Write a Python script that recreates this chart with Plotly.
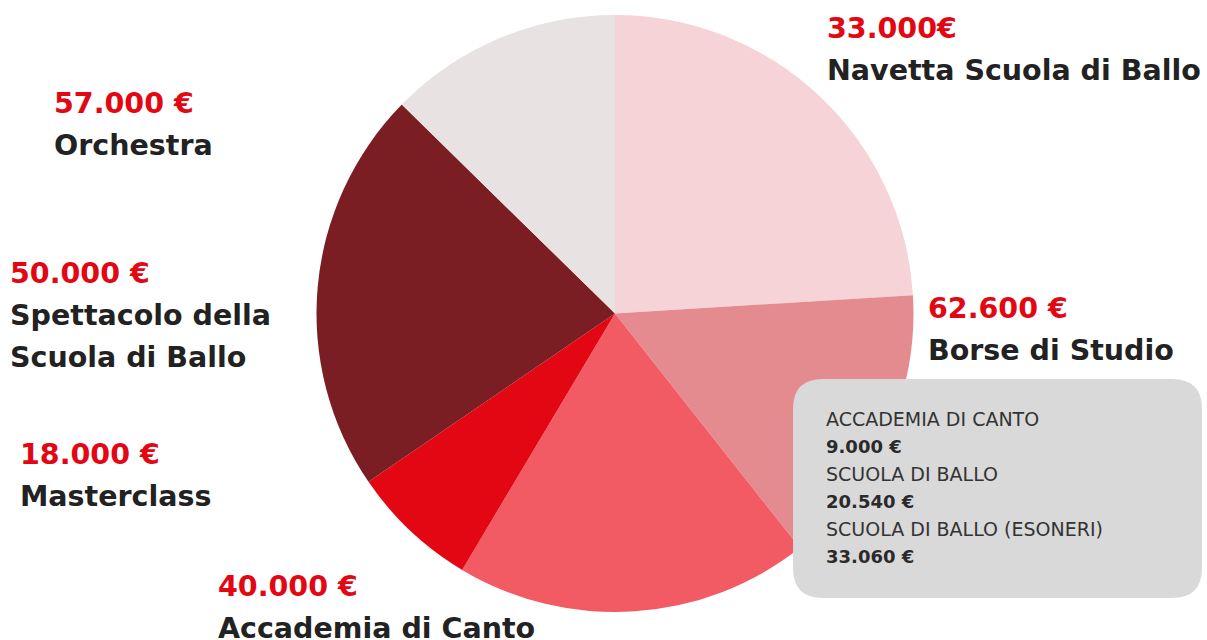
import plotly.graph_objects as go

# ---- data ----
categories = ["Borse di Studio", "Accademia di Canto", "Spettacolo della Scuola di Ballo",
              "Masterclass", "Orchestra", "Navetta Scuola di Ballo"]
values = [62600, 40000, 50000, 18000, 57000, 33000]
value_labels = ["62.600 €", "40.000 €", "50.000 €", "18.000 €", "57.000 €", "33.000€"]
name_lines = [["Borse di Studio"], ["Accademia di Canto"], ["Spettacolo della", "Scuola di Ballo"],
              ["Masterclass"], ["Orchestra"], ["Navetta Scuola di Ballo"]]
colors = ["#F5D3D6", "#E48B90", "#F25A64", "#E30613", "#7B1E24", "#E9E2E3"]

detail_names = ["ACCADEMIA DI CANTO", "SCUOLA DI BALLO", "SCUOLA DI BALLO (ESONERI)"]
detail_values = ["9.000 €", "20.540 €", "33.060 €"]

W, H = 1207, 640
FONT = "DejaVu Sans"
RED = "#E30613"
DARK = "#222222"

# label anchor (left x, first baseline) in window pixels
label_pos = [(928, 317), (218, 595), (10, 282), (20, 463), (54, 112), (827, 37)]

def px(x):
    return x / W

def py(y):
    return 1 - y / H

cx, cy, r = 615, 313.5, 298.5

fig = go.Figure(go.Pie(
    labels=categories, values=values, sort=False, direction="clockwise", rotation=0,
    marker=dict(colors=colors, line=dict(width=0)), textinfo="none", hoverinfo="skip",
    showlegend=False,
    domain=dict(x=[px(cx - r), px(cx + r)], y=[py(cy + r), py(cy - r)]),
))

annotations = []
SIZE = 28.5
LINE = 42
def add_text(x, baseline, text, size, color, weight):
    annotations.append(dict(
        x=px(x), y=py(baseline - 0.30 * size), xref="paper", yref="paper",
        xanchor="left", yanchor="middle", text=text, showarrow=False,
        font=dict(family=FONT, size=size, color=color, weight=weight),
    ))

for (x, b), v, lines in zip(label_pos, value_labels, name_lines):
    add_text(x - 2, b, v, SIZE, RED, 700)
    for i, ln in enumerate(lines):
        add_text(x - 2, b + LINE * (i + 1), ln, SIZE, DARK, 700)

# detail box
bx0, by0, bx1, by1, rad = 793, 379, 1202, 598, 30
path = (f"M {px(bx0 + rad)} {py(by0)} L {px(bx1 - rad)} {py(by0)} "
        f"Q {px(bx1)} {py(by0)} {px(bx1)} {py(by0 + rad)} "
        f"L {px(bx1)} {py(by1 - rad)} Q {px(bx1)} {py(by1)} {px(bx1 - rad)} {py(by1)} "
        f"L {px(bx0 + rad)} {py(by1)} Q {px(bx0)} {py(by1)} {px(bx0)} {py(by1 - rad)} "
        f"L {px(bx0)} {py(by0 + rad)} Q {px(bx0)} {py(by0)} {px(bx0 + rad)} {py(by0)} Z")
shapes = [dict(type="path", path=path, xref="paper", yref="paper",
               fillcolor="#D9D9D9", line=dict(width=0), layer="above")]

b = 425
for n, v in zip(detail_names, detail_values):
    add_text(824, b, n, 19, "#333333", 400)
    add_text(824, b + 27, v, 18, "#2A2A2A", 700)
    b += 55

fig.update_layout(
    width=W, height=H, margin=dict(l=0, r=0, t=0, b=0),
    paper_bgcolor="white", plot_bgcolor="white",
    annotations=annotations, shapes=shapes,
)

fig.write_html("out.html", config={"displayModeBar": False},
               post_script="document.body.style.margin='0';document.body.style.overflow='hidden';")
